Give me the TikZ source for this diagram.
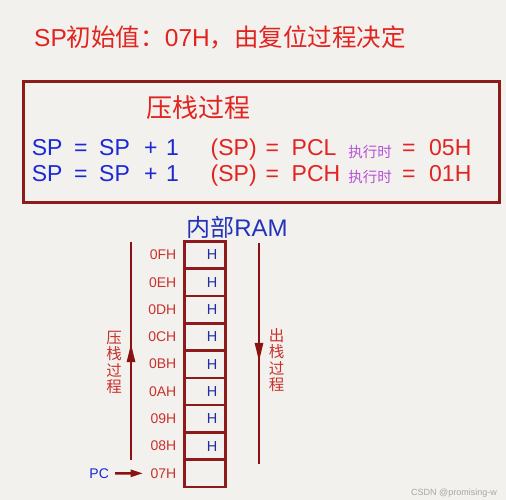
\documentclass[tikz,border=0pt]{standalone}
\usepackage{fontspec}
\setmainfont{Liberation Sans}
\newfontfamily\cjk{Noto Sans CJK SC}
\usetikzlibrary{arrows.meta,decorations.markings}
\definecolor{bgc}{HTML}{F3F1EE}
\definecolor{tred}{HTML}{E22420}
\definecolor{tblue}{HTML}{1A28D6}
\definecolor{boxc}{HTML}{8E1B1B}
\definecolor{ramblue}{HTML}{2233BB}
\definecolor{adrred}{HTML}{C8322D}
\definecolor{hblue}{HTML}{1F2F9F}
\definecolor{purp}{HTML}{B650D8}
\definecolor{arrc}{HTML}{8B1212}
\newcommand\fsz[1]{\fontsize{#1}{#1}\selectfont}
\tikzset{
  eqb/.style={anchor=base west, inner sep=0, text=tblue, font=\fsz{23}},
  eqr/.style={anchor=base west, inner sep=0, text=tred, font=\fsz{23}},
  exec/.style={anchor=center, inner sep=0, text=purp, font=\cjk\fsz{14.5}},
  cell/.style={draw=boxc, fill=bgc, line width=2.6pt, minimum width=40.6pt, minimum height=27.3pt, inner sep=0},
  hst/.style={anchor=center, inner sep=0, text=hblue, font=\fsz{14.5}},
  adr/.style={anchor=east, inner sep=0, text=adrred, font=\fsz{14}},
  vtxt/.style={anchor=center, inner sep=0, align=center, text=adrred, font=\cjk\fontsize{15.5}{16.4}\selectfont},
  bigflow/.style={draw=arrc, line width=2.8pt, postaction={decorate},
    decoration={markings, mark=at position #1 with {\arrow[arrc]{Triangle[length=19pt,width=8pt]}}}},
  pcarr/.style={draw=arrc, line width=2.5pt, -{Triangle[length=12.5pt,width=7pt]}}
}
\begin{document}
\begin{tikzpicture}[x=1pt,y=-1pt]
\fill[bgc] (0,0) rectangle (506,500);
\useasboundingbox (0,0) rectangle (506,500);

% title
\node[anchor=base west, inner sep=0, text=tred, font=\fsz{24.5}] (title) at (34,47)
  {SP{\cjk 初始值：}07H{\cjk ，由复位过程决定}};

% box
\node[draw=boxc, line width=3pt, minimum width=476.3pt, minimum height=121.6pt,
      anchor=north west, inner sep=0] (box) at (21.7,79.7) {};
\node[anchor=center, inner sep=0, text=tred, font=\cjk\fsz{26}] (boxtitle) at (198,107.5) {压栈过程};

% line 1
\node[eqb] (l1a) at (31.6,156) {SP};
\node[eqb] (l1b) at (74,156) {=};
\node[eqb] (l1c) at (99,156) {SP};
\node[eqb] (l1d) at (144,156) {+};
\node[eqb] (l1e) at (165.8,156) {1};
\node[eqr] (l1f) at (210.5,156) {(SP)};
\node[eqr] (l1g) at (265.5,156) {=};
\node[eqr] (l1h) at (291.5,156) {PCL};
\node[exec] (l1i) at (370,152.5) {执行时};
\node[eqr] (l1j) at (402,156) {=};
\node[eqr] (l1k) at (429,156) {05H};

% line 2
\node[eqb] (l2a) at (31.6,181.5) {SP};
\node[eqb] (l2b) at (74,181.5) {=};
\node[eqb] (l2c) at (99,181.5) {SP};
\node[eqb] (l2d) at (144,181.5) {+};
\node[eqb] (l2e) at (165.8,181.5) {1};
\node[eqr] (l2f) at (210.5,181.5) {(SP)};
\node[eqr] (l2g) at (265.5,181.5) {=};
\node[eqr] (l2h) at (291.5,181.5) {PCH};
\node[exec] (l2i) at (370,177.5) {执行时};
\node[eqr] (l2j) at (402,181.5) {=};
\node[eqr] (l2k) at (429,181.5) {01H};

% RAM title
\node[anchor=base, inner sep=0, text=ramblue, font=\fsz{24}] (ram) at (237,236.5) {{\cjk 内部}RAM};

% cells
\foreach \i/\lab in {0/07H,1/08H,2/09H,3/0AH,4/0BH,5/0CH,6/0DH,7/0EH,8/0FH}{
  \pgfmathsetmacro\yy{487-27.3*\i-13.65}
  \node[cell] (c\i) at (205,\yy) {};
  \node[adr] (a\i) at (176.5,\yy) {\lab};
}
\foreach \i in {1,...,8}{
  \node[hst] (h\i) at ([xshift=7pt]c\i.center) {H};
}

% push / pop arrows
\coordinate (pushS) at (131,460);
\coordinate (pushE) at (131,241.7);
\coordinate (popS) at (259,243.3);
\coordinate (popE) at (259,464);
\draw[bigflow=0.535] (pushS) -- (pushE);
\draw[bigflow=0.537] (popS) -- (popE);

\node[vtxt] (push) at (114,362.3) {压\\栈\\过\\程};
\node[vtxt] (pop) at (276.7,360) {出\\栈\\过\\程};

% PC
\node[anchor=center, inner sep=0, text=tblue, font=\fsz{14}] (pc) at (99.2,473.3) {PC};
\draw[pcarr] ([xshift=6pt]pc.east) -- ([xshift=-7.3pt]a0.west);

% watermark
\node[anchor=base east, inner sep=0, text=black!35, font=\fsz{9}] (wm) at (497,495) {CSDN @promising-w};
\end{tikzpicture}
\end{document}
